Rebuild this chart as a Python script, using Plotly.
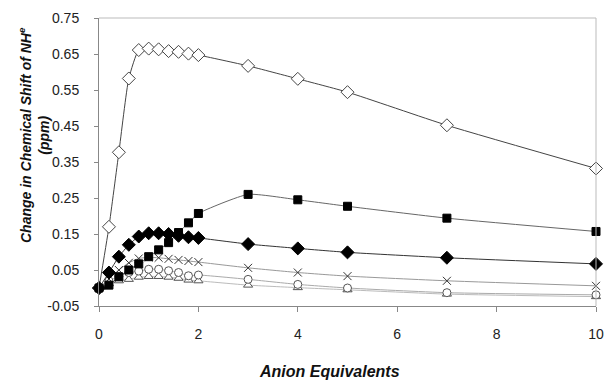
import plotly.graph_objects as go

equiv = [0, 0.2, 0.4, 0.6, 0.8, 1.0, 1.2, 1.4, 1.6, 1.8, 2.0, 3, 4, 5, 7, 10]

open_diamond = [0, 0.170, 0.377, 0.582, 0.661, 0.665, 0.663, 0.658, 0.656, 0.651, 0.647, 0.617, 0.581, 0.544, 0.452, 0.332]
filled_square = [0, 0.008, 0.031, 0.050, 0.067, 0.087, 0.106, 0.126, 0.154, 0.181, 0.207, 0.260, 0.245, 0.227, 0.194, 0.157]
filled_diamond = [0, 0.043, 0.087, 0.120, 0.143, 0.152, 0.152, 0.150, 0.145, 0.141, 0.139, 0.122, 0.110, 0.099, 0.084, 0.067]
cross = [0, 0.025, 0.050, 0.070, 0.082, 0.085, 0.084, 0.081, 0.078, 0.075, 0.072, 0.056, 0.043, 0.033, 0.020, 0.006]
circle = [0, 0.020, 0.032, 0.043, 0.047, 0.052, 0.052, 0.048, 0.043, 0.034, 0.036, 0.024, 0.010, 0.000, -0.013, -0.019]
triangle = [0, 0.012, 0.020, 0.024, 0.030, 0.032, 0.032, 0.030, 0.027, 0.022, 0.020, 0.008, 0.001, -0.005, -0.017, -0.024]

y_ticks = [-0.05, 0.05, 0.15, 0.25, 0.35, 0.45, 0.55, 0.65, 0.75]
x_ticks = [0, 2, 4, 6, 8, 10]

series = [
    (triangle, "triangle-up", "white", "#555", "#bbb", 8),
    (circle, "circle", "white", "#555", "#aaa", 8),
    (cross, "x-thin", "#333", "#333", "#999", 8),
    (open_diamond, "diamond", "white", "#444", "#444", 10),
    (filled_square, "square", "black", "black", "#666", 8),
    (filled_diamond, "diamond", "black", "black", "#333", 10),
]

fig = go.Figure()
for ys, sym, fill, edge, lc, sz in series:
    fig.add_trace(go.Scatter(
        x=equiv, y=ys, mode="lines+markers", cliponaxis=False,
        line=dict(color=lc, width=1, shape="spline", smoothing=0.5),
        marker=dict(symbol=sym, size=sz, color=fill, line=dict(color=edge, width=1)),
        showlegend=False,
    ))

fig.update_layout(
    width=612, height=381,
    margin=dict(l=99, r=8, t=18, b=75),
    paper_bgcolor="white", plot_bgcolor="white",
    font=dict(family="Liberation Sans, Arial", size=14, color="#222"),
    shapes=[
        dict(type="line", xref="paper", yref="paper", x0=0, x1=1, y0=1, y1=1,
             line=dict(color="#bbb", width=1)),
        dict(type="line", xref="paper", yref="paper", x0=1, x1=1, y0=0, y1=1,
             line=dict(color="#bbb", width=1)),
    ],
    annotations=[
        dict(text="<b><i>Anion Equivalents</i></b>", xref="paper", yref="paper",
             x=0.463, y=-0.229, xanchor="center", yanchor="middle",
             showarrow=False, font=dict(size=16, color="#111")),
        dict(text="<b><i>Change in Chemical Shift of NH<sup>e</sup></i></b><br><b><i>(ppm)</i></b>",
             xref="paper", yref="paper", x=-0.132, y=0.595, xanchor="center", yanchor="middle",
             textangle=-90, showarrow=False, font=dict(size=14, color="#111")),
    ],
)
fig.update_xaxes(range=[0, 10], tickvals=x_ticks, ticktext=[str(v) for v in x_ticks],
                 showgrid=False, zeroline=False, showline=True, linecolor="#888", linewidth=1,
                 ticks="outside", ticklen=5, tickcolor="#888", ticklabelstandoff=10)
fig.update_yaxes(range=[-0.05, 0.75], tickvals=y_ticks, ticktext=[f"{v:.2f}" for v in y_ticks],
                 showgrid=False, zeroline=False, showline=True, linecolor="#888", linewidth=1,
                 ticks="outside", ticklen=4, tickcolor="#888", ticklabelstandoff=12)

fig.write_html("out.html", config={"displayModeBar": False},
               post_script="document.body.style.margin='0';document.body.style.overflow='hidden';")
